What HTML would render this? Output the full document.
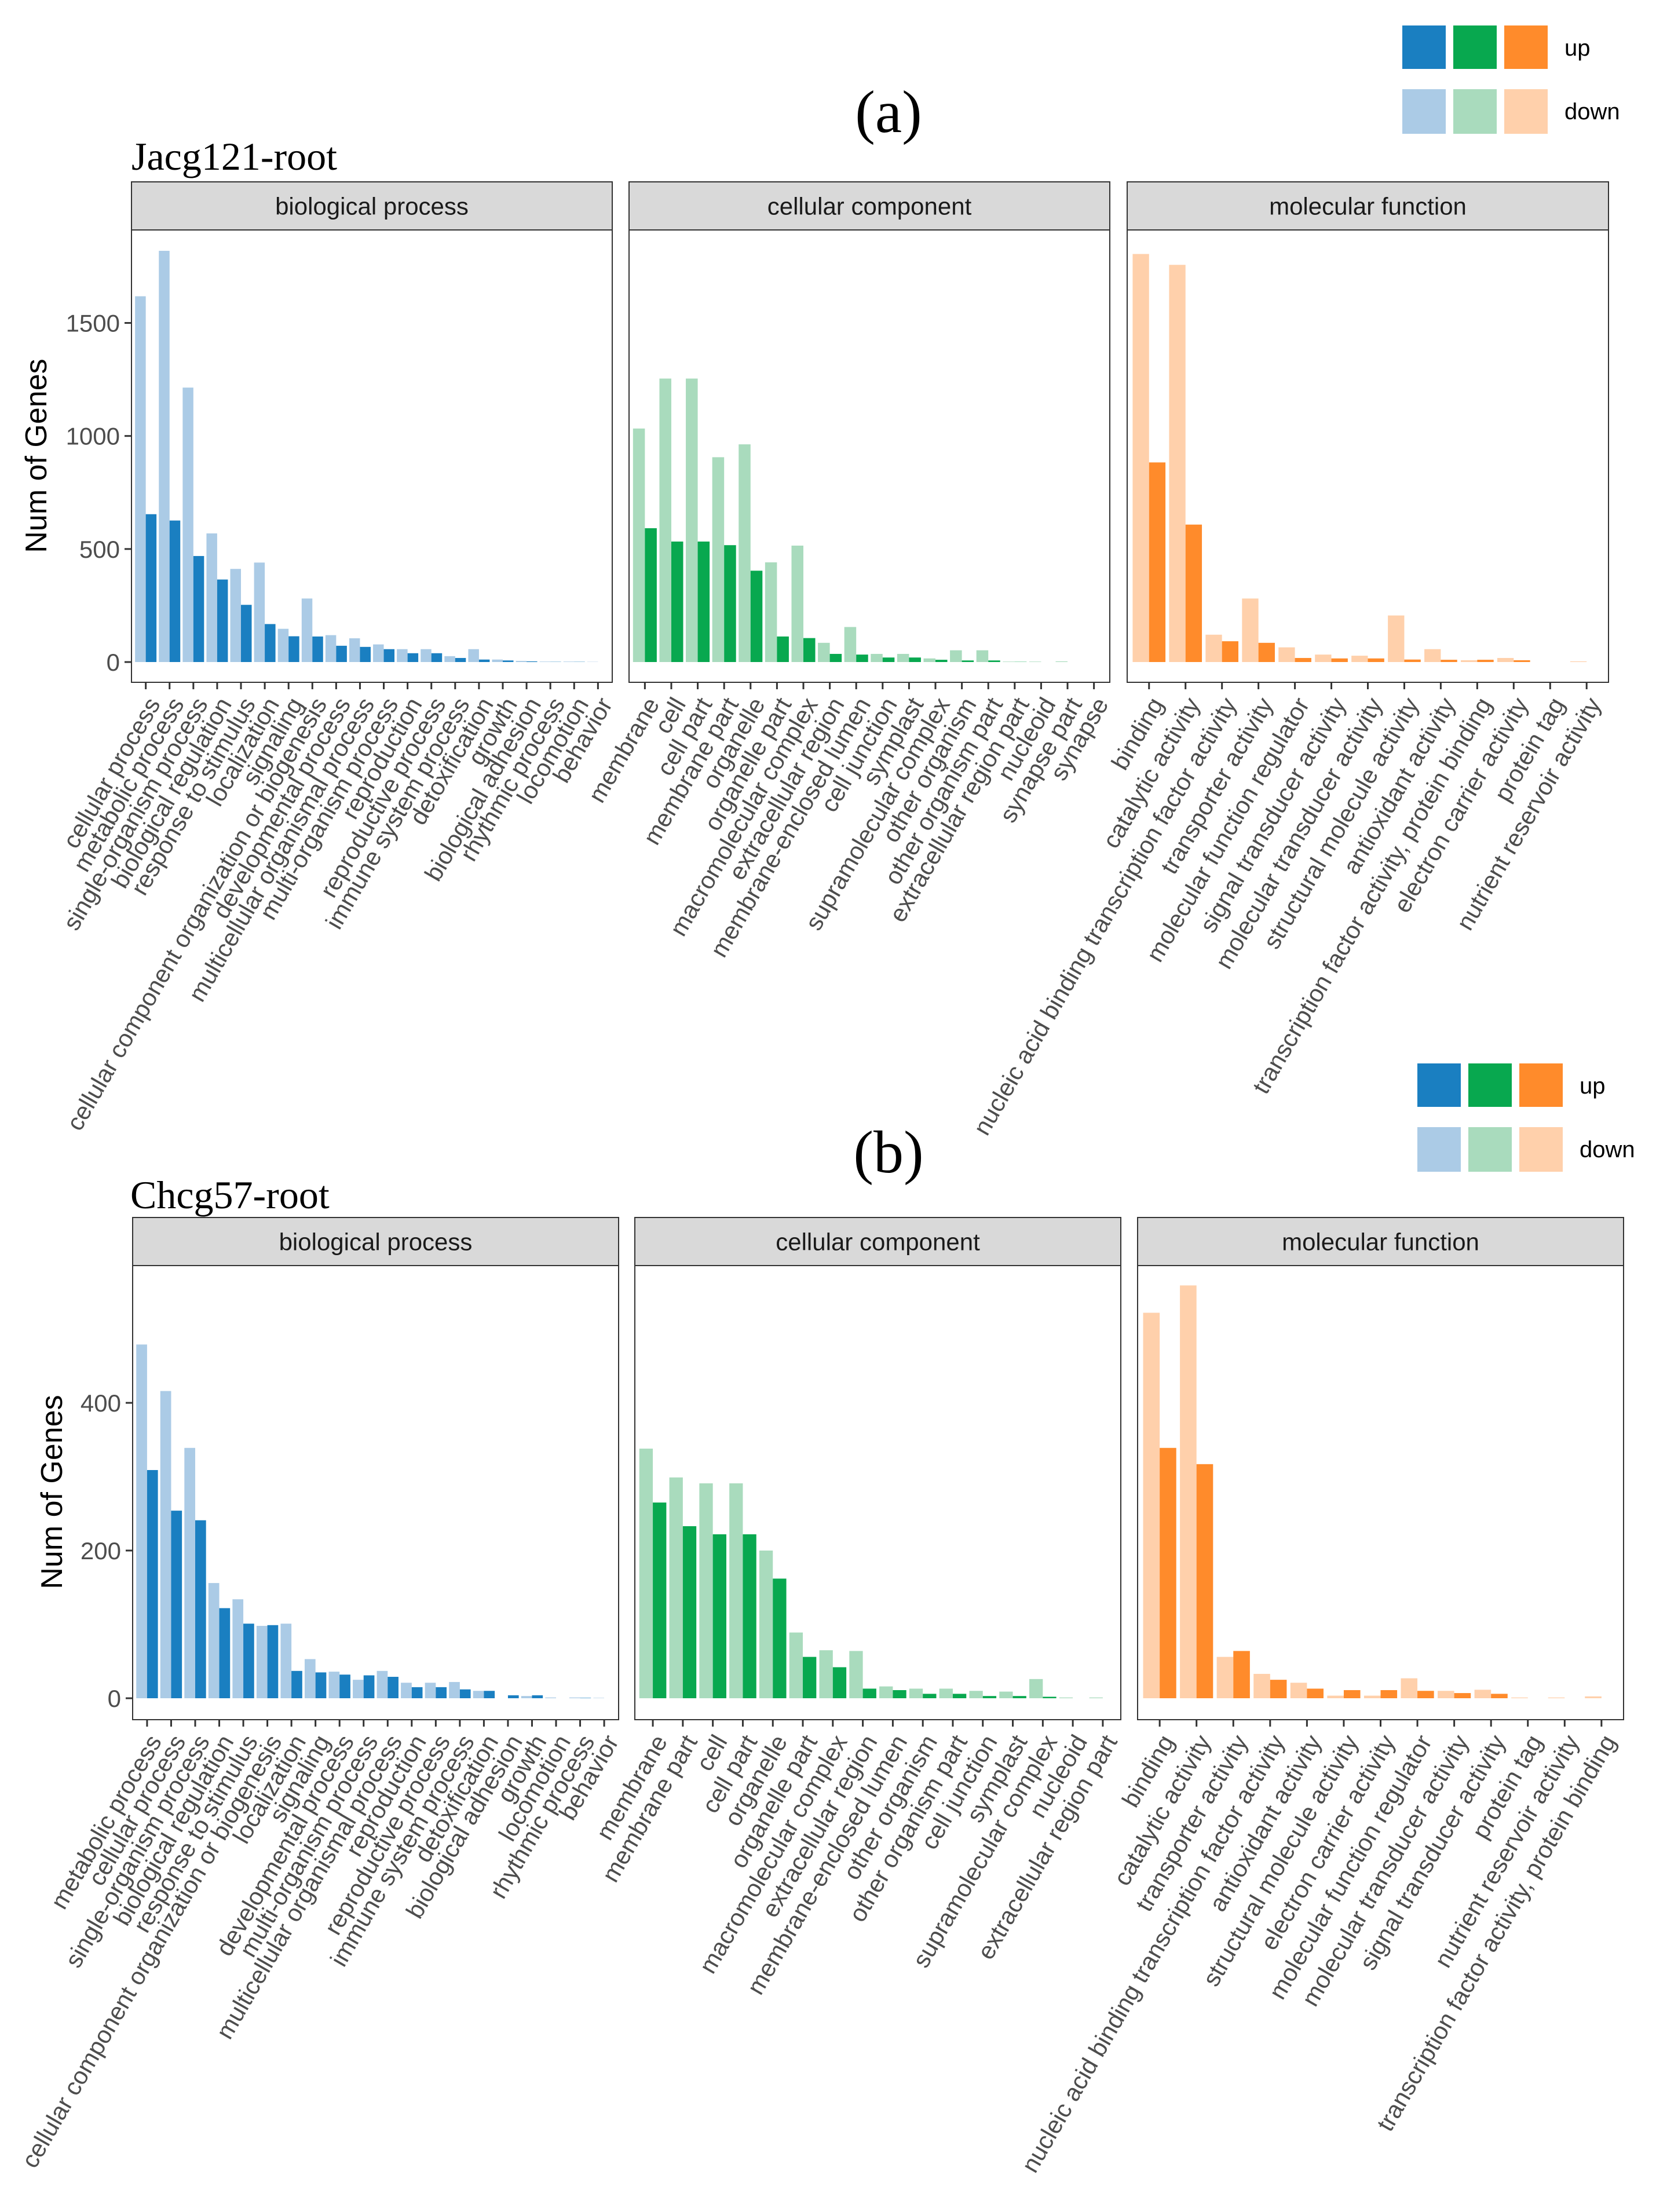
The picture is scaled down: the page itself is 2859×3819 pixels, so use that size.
<!DOCTYPE html>
<html><head><meta charset="utf-8"><style>
html,body{margin:0;padding:0;background:#fff;}
svg{display:block;}
text{font-family:"Liberation Sans",sans-serif;}
.serif{font-family:"Liberation Serif",serif;}
</style></head><body>
<svg id="fig" xmlns="http://www.w3.org/2000/svg" width="2859" height="3819" viewBox="0 0 2859 3819">
<rect x="0" y="0" width="2859" height="3819" fill="#fff"/>
<text class="serif" x="1534" y="228" font-size="104" text-anchor="middle" fill="#000">(a)</text>
<text class="serif" x="227" y="293" font-size="68" fill="#000">Jacg121-root</text>
<text class="serif" x="1534" y="2024" font-size="104" text-anchor="middle" fill="#000">(b)</text>
<text class="serif" x="225" y="2086" font-size="68" fill="#000">Chcg57-root</text>
<g id="layer"></g>
</svg>
<script>
// ---------- (a) Jacg121-root data ----------
const aBpCats = ["cellular process","metabolic process","single-organism process","biological regulation","response to stimulus","localization","signaling","cellular component organization or biogenesis","developmental process","multicellular organismal process","multi-organism process","reproduction","reproductive process","immune system process","detoxification","growth","biological adhesion","rhythmic process","locomotion","behavior"];
const aBpDown = [1618,1819,1214,569,412,440,147,281,119,105,78,57,57,26,57,11,5,2,2,1];
const aBpUp   = [654,626,469,365,253,168,114,113,72,67,57,39,39,18,11,7,3,1,1,0];
const aCcCats = ["membrane","cell","cell part","membrane part","organelle","organelle part","macromolecular complex","extracellular region","membrane-enclosed lumen","cell junction","symplast","supramolecular complex","other organism","other organism part","extracellular region part","nucleoid","synapse part","synapse"];
const aCcDown = [1033,1254,1254,906,963,441,515,85,155,36,36,16,52,52,2,2,3,0];
const aCcUp   = [592,533,533,517,404,113,106,36,33,20,20,10,7,7,1,0,0,0];
const aMfCats = ["binding","catalytic activity","nucleic acid binding transcription factor activity","transporter activity","molecular function regulator","signal transducer activity","molecular transducer activity","structural molecule activity","antioxidant activity","transcription factor activity, protein binding","electron carrier activity","protein tag","nutrient reservoir activity"];
const aMfDown = [1805,1757,121,281,65,33,28,206,57,8,18,0,3];
const aMfUp   = [883,608,92,85,18,16,16,11,10,10,8,0,0];
const aYTicks = [0,500,1000,1500];
// ---------- (b) Chcg57-root data ----------
const bBpCats = ["metabolic process","cellular process","single-organism process","biological regulation","response to stimulus","cellular component organization or biogenesis","localization","signaling","developmental process","multi-organism process","multicellular organismal process","reproduction","reproductive process","immune system process","detoxification","biological adhesion","growth","locomotion","rhythmic process","behavior"];
const bBpDown = [479,416,339,156,134,98,101,53,36,25,37,21,21,22,10,0,3,1,1,0.5];
const bBpUp   = [309,254,241,122,101,99,37,35,32,31,29,15,15,12,10,4,4,0,0.5,0];
const bCcCats = ["membrane","membrane part","cell","cell part","organelle","organelle part","macromolecular complex","extracellular region","membrane-enclosed lumen","other organism","other organism part","cell junction","symplast","supramolecular complex","nucleoid","extracellular region part"];
const bCcDown = [338,299,291,291,200,89,65,64,16,13,13,10,9,26,1,1];
const bCcUp   = [265,233,222,222,162,56,42,13,11,6,6,3,3,2,0,0];
const bMfCats = ["binding","catalytic activity","transporter activity","nucleic acid binding transcription factor activity","antioxidant activity","structural molecule activity","electron carrier activity","molecular function regulator","molecular transducer activity","signal transducer activity","protein tag","nutrient reservoir activity","transcription factor activity, protein binding"];
const bMfDown = [522,559,56,33,21,3.5,3.5,27,10,11.5,1,1,2.5];
const bMfUp   = [339,317,64,25,13,11,11,10,7,6,0,0,0];
const bYTicks = [0,200,400];
const facetNames = ["biological process","cellular component","molecular function"];
const legendLabels = ["up","down"];

const NS = "http://www.w3.org/2000/svg";
const layer = document.getElementById("layer");
function mk(tag, attrs, parent){
  const e = document.createElementNS(NS, tag);
  for (const k in attrs) e.setAttribute(k, attrs[k]);
  (parent||layer).appendChild(e);
  return e;
}
const COLORS = {
  blue:{up:"#1a7fc1",down:"#abcbe6"},
  green:{up:"#08a84f",down:"#a9dbbd"},
  orange:{up:"#ff8b2b",down:"#ffd0ab"}
};

function drawRow(cfg){
  const yScale = v => cfg.zeroY - v * cfg.pxPerUnit;
  const panels = cfg.panels;
  panels.forEach((p, pi) => {
    const g = mk("g", {});
    
    
    const strip = mk("rect", {x:p.x0, y:cfg.stripTop, width:p.x1-p.x0, height:cfg.stripBot-cfg.stripTop, fill:"#d9d9d9", stroke:"#333", "stroke-width":2}, g);
    
    
    const st = mk("text", {x:(p.x0+p.x1)/2, y:(cfg.stripTop+cfg.stripBot)/2+15, "font-size":42, "text-anchor":"middle", fill:"#1a1a1a"}, g);
    st.textContent = facetNames[pi];
    
    
    mk("rect", {x:p.x0, y:cfg.stripBot, width:p.x1-p.x0, height:cfg.plotBot-cfg.stripBot, fill:"#fff"}, g);
    const n = p.cats.length;
    const step = (p.x1-p.x0)/(n+0.2);
    const xScale = i => p.x0 + step*(0.6+i);
    const bw = step*0.45;
    p.cats.forEach((c, i) => {
      const cx = xScale(i);
      const dv = p.down[i], uv = p.up[i];
      const r1 = mk("rect", {x:cx-bw, y:yScale(dv), width:bw, height:Math.max(0,cfg.zeroY-yScale(dv)), fill:COLORS[p.color].down}, g);
      
      
      const r2 = mk("rect", {x:cx, y:yScale(uv), width:bw, height:Math.max(0,cfg.zeroY-yScale(uv)), fill:COLORS[p.color].up}, g);
      
      
      mk("line", {x1:cx, x2:cx, y1:cfg.plotBot, y2:cfg.plotBot+12, stroke:"#333", "stroke-width":3}, g);
      const lx = cx, ly = cfg.plotBot + 22;
      const t = mk("text", {x:0, y:0, dy:"0.72em", "font-size":42, "text-anchor":"end", fill:"#4d4d4d", transform:"translate("+lx+","+ly+") rotate(-60)"}, g);
      t.textContent = c;
      
      
    });
    mk("rect", {x:p.x0, y:cfg.stripBot, width:p.x1-p.x0, height:cfg.plotBot-cfg.stripBot, fill:"none", stroke:"#333", "stroke-width":2}, g);
    if (pi === 0){
      cfg.yTicks.forEach(v => {
        const y = yScale(v);
        mk("line", {x1:p.x0-12, x2:p.x0, y1:y, y2:y, stroke:"#333", "stroke-width":3}, g);
        const tl = mk("text", {x:p.x0-20, y:y+15, "font-size":42, "text-anchor":"end", fill:"#4d4d4d"}, g);
        tl.textContent = v;
        
        
      });
      const yt = mk("text", {x:0, y:0, "font-size":52, "text-anchor":"middle", fill:"#000", transform:"translate("+cfg.yTitleX+","+cfg.yTitleY+") rotate(-90)"}, g);
      yt.textContent = "Num of Genes";
      
      
    }
  });
  const lg = mk("g", {});
  
  
  ["blue","green","orange"].forEach((col, i) => {
    const x = cfg.legX + i*88;
    const a = mk("rect", {x:x, y:cfg.legY, width:75, height:75, fill:COLORS[col].up}, lg);
    
    
    const b = mk("rect", {x:x, y:cfg.legY+110, width:75, height:77, fill:COLORS[col].down}, lg);
    
    
  });
  legendLabels.forEach((lab, i) => {
    const t = mk("text", {x:cfg.legX+280, y:cfg.legY+52+i*110, "font-size":40, fill:"#000"}, lg);
    t.textContent = lab;
    
    
  });
}

drawRow({
  prefix:"a", stripTop:314, stripBot:397, plotBot:1178, zeroY:1143, pxPerUnit:0.3903,
  yTicks:aYTicks, yTitleX:80, yTitleY:787, legX:2421, legY:44,
  panels:[
    {key:"bp", x0:227, x1:1057, cats:aBpCats, down:aBpDown, up:aBpUp, color:"blue"},
    {key:"cc", x0:1086, x1:1916, cats:aCcCats, down:aCcDown, up:aCcUp, color:"green"},
    {key:"mf", x0:1946, x1:2777, cats:aMfCats, down:aMfDown, up:aMfUp, color:"orange"}
  ]
});
drawRow({
  prefix:"b", stripTop:2102, stripBot:2185, plotBot:2969, zeroY:2932, pxPerUnit:1.275,
  yTicks:bYTicks, yTitleX:107, yTitleY:2576, legX:2447, legY:1836,
  panels:[
    {key:"bp", x0:229, x1:1068, cats:bBpCats, down:bBpDown, up:bBpUp, color:"blue"},
    {key:"cc", x0:1096, x1:1935, cats:bCcCats, down:bCcDown, up:bCcUp, color:"green"},
    {key:"mf", x0:1964, x1:2803, cats:bMfCats, down:bMfDown, up:bMfUp, color:"orange"}
  ]
});
</script>
</body></html>
